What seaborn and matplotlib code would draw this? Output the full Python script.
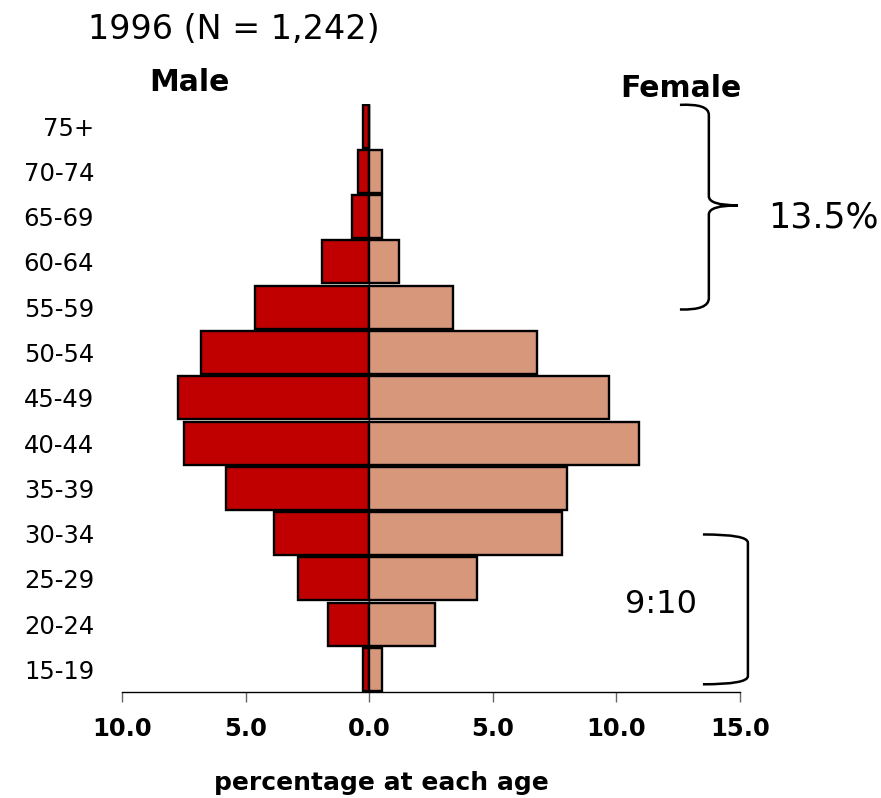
import matplotlib
matplotlib.use("Agg")
import matplotlib.pyplot as plt
from matplotlib.path import Path
from matplotlib.patches import PathPatch
import seaborn as sns
import pandas as pd

# Age groups, top to bottom
age_groups = ["75+", "70-74", "65-69", "60-64", "55-59", "50-54", "45-49",
              "40-44", "35-39", "30-34", "25-29", "20-24", "15-19"]
# Percentage of the sample in each age group
male_pct = [0.25, 0.45, 0.7, 1.9, 4.6, 6.8, 7.75, 7.5, 5.8, 3.85, 2.9, 1.65, 0.25]
female_pct = [0.0, 0.5, 0.5, 1.2, 3.4, 6.8, 9.7, 10.9, 8.0, 7.8, 4.35, 2.65, 0.5]
x_ticks = [-10, -5, 0, 5, 10, 15]
x_tick_labels = ["10.0", "5.0", "0.0", "5.0", "10.0", "15.0"]

title = "1996 (N = 1,242)"
older_share = "13.5%"
sex_ratio = "9:10"

df = pd.DataFrame({
    "age": age_groups * 2,
    "sex": ["Male"] * len(age_groups) + ["Female"] * len(age_groups),
    "pct": [-v for v in male_pct] + female_pct,
})

sns.set_theme(style="white")
plt.rcParams["font.family"] = ["DejaVu Sans"]
plt.rcParams["text.color"] = "black"
plt.rcParams["xtick.color"] = "black"
plt.rcParams["ytick.color"] = "black"
plt.rcParams["axes.labelcolor"] = "black"

W, H = 881, 798
fig = plt.figure(figsize=(W / 100, H / 100), dpi=100)
ax = fig.add_axes([122 / W, 1 - 692 / H, (740 - 122) / W, (692 - 103.5) / H])

ax.axvline(0, color="#555555", lw=0.9, zorder=0)
sns.barplot(data=df, x="pct", y="age", hue="sex", order=age_groups,
            hue_order=["Male", "Female"], palette=["#C00000", "#D6977A"],
            saturation=1, dodge=False, width=0.95, edgecolor="black",
            linewidth=1.7, orient="h", legend=False, ax=ax, zorder=2)

ax.set_xlim(-10, 15)
ax.set_ylim(12.5, -0.5)
ax.set_xticks(x_ticks)
ax.set_xticklabels(x_tick_labels, fontsize=17.5, fontweight="bold")
ax.tick_params(axis="x", direction="out", length=7, width=1, color="#666666",
               pad=11, bottom=True)
ax.tick_params(axis="y", length=0, pad=20, labelsize=17.5)
ax.set_ylabel("")
ax.set_xlabel("")
for side in ["left", "right", "top"]:
    ax.spines[side].set_visible(False)
ax.spines["bottom"].set_color("black")
ax.spines["bottom"].set_linewidth(1.0)

# Axis caption, centred under the zero line
ax.text(0.5, 14.5, "percentage at each age", ha="center", va="center",
        fontsize=18, fontweight="bold", clip_on=False)

# Headings
ax.text(-5.47, -2.13, title, ha="center", va="center", fontsize=24,
        clip_on=False)
ax.text(-7.26, -0.97, "Male", ha="center", va="center", fontsize=21.5,
        fontweight="bold", clip_on=False)
ax.text(12.6, -0.83, "Female", ha="center", va="center", fontsize=21.5,
        fontweight="bold", clip_on=False)

# Curly brace grouping the older age groups
brace = [
    (Path.MOVETO, (12.57, -0.47)),
    (Path.CURVE3, (13.74, -0.5)), (Path.CURVE3, (13.74, -0.25)),
    (Path.LINETO, (13.74, 1.55)),
    (Path.CURVE3, (13.74, 1.75)), (Path.CURVE3, (14.92, 1.75)),
    (Path.CURVE3, (13.74, 1.75)), (Path.CURVE3, (13.74, 1.95)),
    (Path.LINETO, (13.74, 3.8)),
    (Path.CURVE3, (13.74, 4.07)), (Path.CURVE3, (12.57, 4.05)),
]
codes, verts = zip(*brace)
ax.add_patch(PathPatch(Path(verts, codes), fill=False, lw=1.8,
                       edgecolor="black", clip_on=False))
ax.text(18.36, 2.02, older_share, ha="center", va="center", fontsize=25,
        clip_on=False)

# Bracket over the younger age groups
bracket = [
    (Path.MOVETO, (13.5, 9.02)),
    (Path.CURVE3, (15.32, 9.02)), (Path.CURVE3, (15.32, 9.2)),
    (Path.LINETO, (15.32, 12.15)),
    (Path.CURVE3, (15.32, 12.33)), (Path.CURVE3, (13.5, 12.33)),
]
codes, verts = zip(*bracket)
ax.add_patch(PathPatch(Path(verts, codes), fill=False, lw=1.8,
                       edgecolor="black", clip_on=False))
ax.text(11.8, 10.56, sex_ratio, ha="center", va="center", fontsize=23,
        clip_on=False)

fig.savefig("out.png", dpi=100, facecolor="white")
